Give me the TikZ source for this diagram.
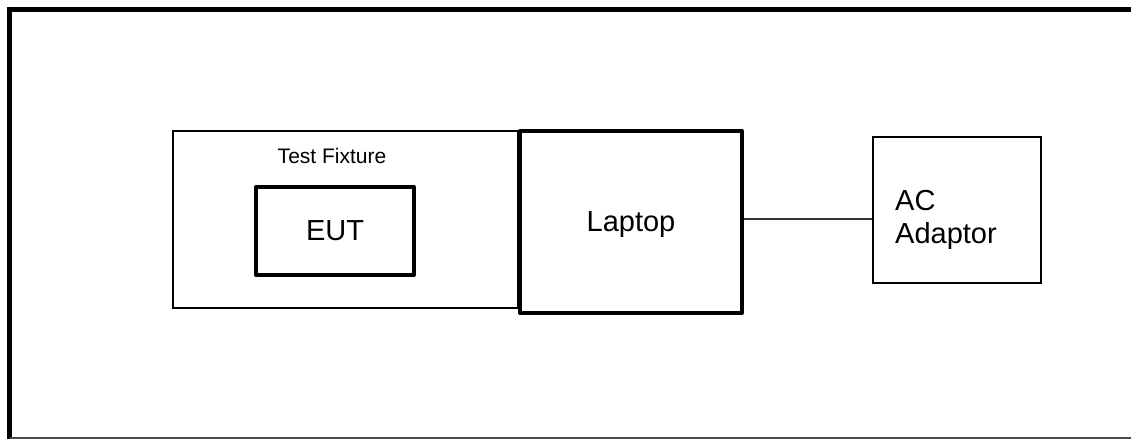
\documentclass[tikz,border=0pt]{standalone}
\usepackage{fontspec}
\setmainfont{Liberation Sans}
\usetikzlibrary{positioning, calc}

\begin{document}
\begin{tikzpicture}[
    x=1pt, y=-1pt,
    bigtext/.style={font=\fontsize{29}{33}\selectfont}, % Style for the box labels
    thin box/.style={draw, rectangle, line width=1.2pt, inner sep=0pt},
    heavy box/.style={draw, rectangle, line width=4pt, inner sep=0pt, fill=white, line join=round, text depth=0pt},
    link/.style={line width=1.2pt, color=black!80} % Style for the cable
]

    % === Page frame ===
    \useasboundingbox (0,0) rectangle (1131,439);
    \draw[line width=5pt] (9.5,439) -- (9.5,9.5) -- (1131,9.5);
    \draw[line width=1.5pt, color=black!70] (9.5,438) -- (1131,438);

    % === Test fixture with EUT ===
    \node[thin box, minimum width=345pt, minimum height=177pt] (fixture) at (345.5,219.5) {};
    \node[font=\fontsize{21}{24}\selectfont] (fixture_label) at ($(fixture.north)+(-13.5,26)$) {Test Fixture};
    \node[heavy box, bigtext, minimum width=158pt, minimum height=88pt] (eut) at (335,231) {EUT};

    % === Laptop ===
    \node[heavy box, bigtext, minimum width=222pt, minimum height=182pt] (laptop) at (631,222) {Laptop};

    % === AC adaptor ===
    \node[thin box, line width=2pt, minimum width=168pt, minimum height=146pt] (adaptor) at (957,210) {};
    \node[bigtext, anchor=west, align=left, inner sep=0pt] (adaptor_label) at (895,220) {AC\\Adaptor};

    % Cable from laptop to adaptor
    \draw[link] ([yshift=3pt]laptop.east) -- ([yshift=3pt]laptop.east -| adaptor.west);

\end{tikzpicture}
\end{document}
